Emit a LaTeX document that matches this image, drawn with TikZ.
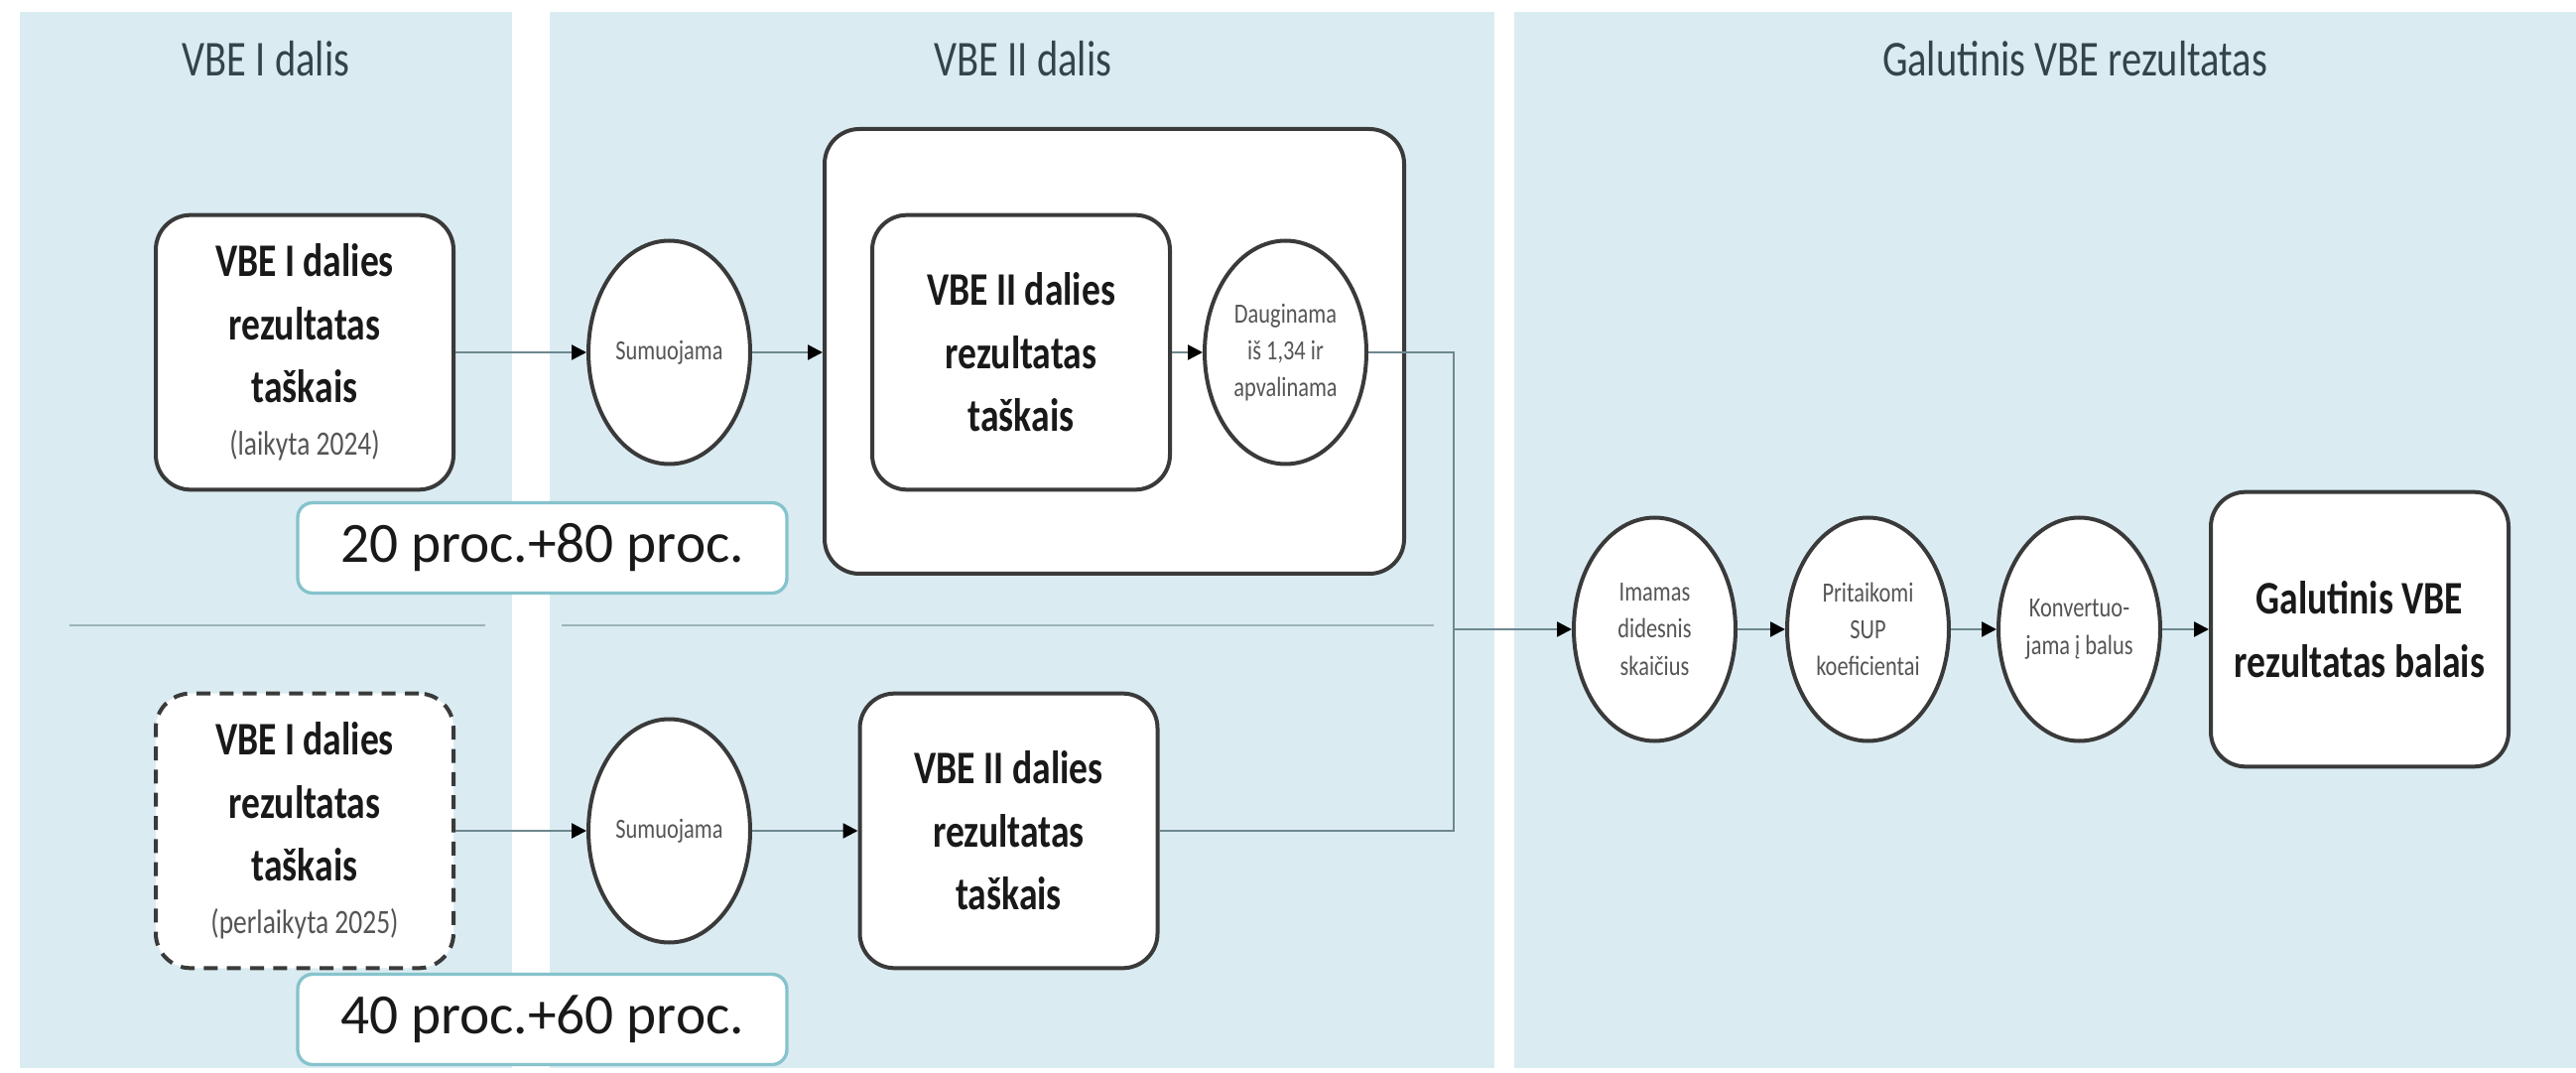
\documentclass[tikz,border=0pt]{standalone}
\usepackage{fontspec}
\setmainfont{Carlito}[FakeStretch=0.8]
\newfontfamily\lblfont{Carlito}
\usetikzlibrary{arrows.meta,shapes.geometric}
\definecolor{panelbg}{HTML}{DAECF2}
\definecolor{titlecol}{HTML}{34444C}
\definecolor{edgecol}{HTML}{3A3A3A}
\definecolor{linkcol}{HTML}{6E878F}
\definecolor{sepcol}{HTML}{9DB3BA}
\definecolor{lblborder}{HTML}{86C3CC}
\definecolor{smalltext}{HTML}{555555}
\begin{document}
\begin{tikzpicture}[x=0.3pt,y=-0.3pt,
  panel/.style={fill=panelbg,draw=none},
  paneltitle/.style={anchor=base,text=titlecol,font=\fontsize{15.2}{18}\selectfont},
  resbox/.style={draw=edgecol,line width=1.2pt,fill=white,rounded corners=10.5pt,align=center,inner sep=0pt,minimum width=90pt,minimum height=83pt,font=\fontsize{14.1}{19}\selectfont\bfseries,text=black!90},
  opell/.style={ellipse,draw=edgecol,line width=1.2pt,fill=white,inner sep=0pt,minimum width=48.9pt,minimum height=67.5pt,align=center,font=\fontsize{8.4}{11.2}\selectfont,text=smalltext},
  lblbox/.style={draw=lblborder,line width=1pt,fill=white,rounded corners=4.5pt,minimum width=147.9pt,minimum height=27.3pt,inner sep=0pt,font=\lblfont\fontsize{17.2}{20}\selectfont,text=black!90},
  link/.style={draw=linkcol,line width=0.75pt},
  arr/.style={link,-{Triangle[length=4.5pt,width=4.5pt,color=black]}},
  sepline/.style={draw=sepcol,line width=0.75pt},
]
\useasboundingbox (0,0) rectangle (2596,1081);
\fill[white] (0,0) rectangle (2596,1081);

% panels
\fill[panel] (20,12) rectangle (516,1076);
\fill[panel] (554,12) rectangle (1506,1076);
\fill[panel] (1526,12) rectangle (2596,1076);

\node[paneltitle] (t1) at (268,77) {VBE I dalis};
\node[paneltitle] (t2) at (1031,77) {VBE II dalis};
\node[paneltitle] (t3) at (2091,77) {Galutinis VBE rezultatas};

% separators
\coordinate (s1a) at (70,630);
\coordinate (s1b) at (489,630);
\coordinate (s2a) at (566,630);
\coordinate (s2b) at (1445,630);
\draw[sepline] (s1a) -- (s1b);
\draw[sepline] (s2a) -- (s2b);

% top row
\node[resbox] (A) at (307,355) {VBE I dalies\\rezultatas\\taškais\\[-3.1pt]{\fontsize{10.3}{12}\selectfont\mdseries\color{smalltext}(laikyta 2024)}};
\node[opell] (S1) at (674.5,355) {Sumuojama};
\node[resbox,minimum width=175.2pt,minimum height=134.4pt] (Big) at (1123,354) {};
\node[resbox] (In) at (1029,355) {VBE II dalies\\rezultatas\\taškais};
\node[opell] (D) at (1295.5,355) {Dauginama\\iš 1,34 ir\\apvalinama};

% bottom row
\node[resbox,dashed,dash pattern=on 4.2pt off 2.8pt] (A2) at (307,837) {VBE I dalies\\rezultatas\\taškais\\[-3.1pt]{\fontsize{10.3}{12}\selectfont\mdseries\color{smalltext}(perlaikyta 2025)}};
\node[opell] (S2) at (674.5,837) {Sumuojama};
\node[resbox] (B2) at (1016.5,837) {VBE II dalies\\rezultatas\\taškais};

% labels
\node[lblbox] (L1) at (546.5,552) {20 proc.+80 proc.};
\node[lblbox] (L2) at (546.5,1027) {40 proc.+60 proc.};

% final row
\node[opell] (Im) at (1667.5,634) {Imamas\\didesnis\\skaičius};
\node[opell] (Pr) at (1882.5,634) {Pritaikomi\\SUP\\koeficientai};
\node[opell] (Ko) at (2095.5,634) {Konvertuo-\\jama į balus};
\node[resbox] (Fin) at (2378,634) {Galutinis VBE\\rezultatas balais};

\coordinate (J) at (1465,634);

% connectors
\draw[arr] (A.east) -- (S1.west);
\draw[arr] (S1.east) -- (S1.east -| Big.west);
\draw[arr] (In.east) -- (In.east -| D.west);
\draw[arr] (A2.east) -- (S2.west);
\draw[arr] (S2.east) -- (S2.east -| B2.west);
\draw[link] (D.east) -- (D.east -| J) -- (J);
\draw[link] (B2.east) -- (B2.east -| J) -- (J);
\draw[arr] (J) -- (Im.west);
\draw[arr] (Im.east) -- (Pr.west);
\draw[arr] (Pr.east) -- (Ko.west);
\draw[arr] (Ko.east) -- (Ko.east -| Fin.west);
\end{tikzpicture}
\end{document}
